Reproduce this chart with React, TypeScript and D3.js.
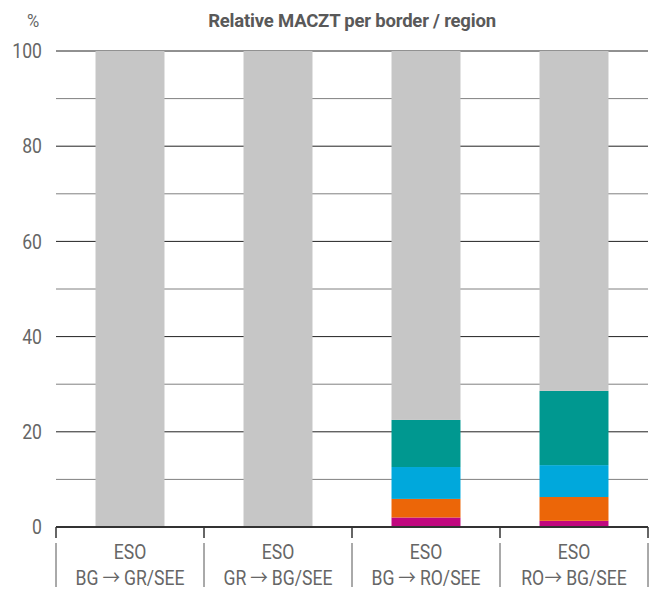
import React from "react";
import * as d3 from "d3";

const categories = ["BG-GR", "GR-BG", "BG-RO", "RO-BG"];
const labelTop = ["ESO", "ESO", "ESO", "ESO"];
const labelFrom = ["BG", "GR", "BG", "RO"];
const labelTo = ["GR/SEE", "BG/SEE", "RO/SEE", "BG/SEE"];
const gapBefore = [true, true, true, false];
const magentaVals = [0, 0, 2.0, 1.3];
const orangeVals = [0, 0, 3.9, 5.0];
const blueVals = [0, 0, 6.7, 6.7];
const tealVals = [0, 0, 9.9, 15.6];
const grayVals = [100, 100, 77.5, 71.4];
const seriesKeys = ["magenta", "orange", "blue", "teal", "gray"];
const seriesColors = ["#C0087F", "#EC6608", "#00A8DC", "#009890", "#C6C6C6"];
const yTicks = [0, 20, 40, 60, 80, 100];
const yMinor = [10, 30, 50, 70, 90];

export default function App() {
  const W = 649, H = 612;
  const left = 56, right = 648, top = 51, bottom = 527;
  const x = d3.scaleBand<string>().domain(categories).range([left, right]).paddingInner(0.534).paddingOuter(0.267);
  const y = d3.scaleLinear().domain([0, 100]).range([bottom, top]);
  const rows = categories.map((c, i) => ({
    cat: c,
    magenta: magentaVals[i],
    orange: orangeVals[i],
    blue: blueVals[i],
    teal: tealVals[i],
    gray: grayVals[i],
  }));
  const stack = d3.stack<any>().keys(seriesKeys)(rows);
  const step = x.step();
  const bounds = d3.range(categories.length + 1).map((i) => left + i * step);
  const font = "Roboto, 'Noto Sans', sans-serif";
  const sx = 0.88;
  return (
    <svg width={W} height={H} style={{ position: "absolute", left: 0, top: 0, background: "#fff" }} fontFamily={font}>
      <text x={352} y={27} textAnchor="middle" fontSize={18.5} fontWeight="bold" fill="#595959" letterSpacing={-0.2}>
        Relative MACZT per border / region
      </text>
      <text transform={`translate(33,27) scale(${sx},1)`} textAnchor="middle" fontSize={19} fill="#666">%</text>
      {yMinor.map((t) => (
        <line key={"m" + t} x1={left} x2={right} y1={y(t)} y2={y(t)} stroke="#808080" strokeWidth={1} />
      ))}
      {yTicks.filter((t) => t > 0).map((t) => (
        <line key={"g" + t} x1={left} x2={right} y1={y(t)} y2={y(t)} stroke="#222" strokeWidth={1} />
      ))}
      {yTicks.map((t) => (
        <text key={"t" + t} transform={`translate(42,${y(t)}) scale(${sx},1)`} dy="0.36em" textAnchor="end" fontSize={20} fill="#666">
          {t}
        </text>
      ))}
      {stack.map((s, si) => (
        <g key={s.key} fill={seriesColors[si]}>
          {s.map((d, i) => (
            <rect key={i} x={x(categories[i])} width={x.bandwidth()} y={y(d[1])} height={Math.max(0, y(d[0]) - y(d[1]))} />
          ))}
        </g>
      ))}
      <line x1={left} x2={right} y1={bottom} y2={bottom} stroke="#333" strokeWidth={2} />
      {bounds.map((b, i) => (
        <g key={"b" + i}>
          <line x1={b} x2={b} y1={bottom} y2={538} stroke="#333" strokeWidth={1.5} />
          <line x1={b} x2={b} y1={543} y2={587} stroke="#555" strokeWidth={1} />
        </g>
      ))}
      {categories.map((c, i) => {
        const cx = (x(c) as number) + x.bandwidth() / 2;
        return (
          <g key={"l" + c} fontSize={20} fill="#666" textAnchor="middle">
            <text transform={`translate(${cx},559) scale(${sx},1)`}>{labelTop[i]}</text>
            <text transform={`translate(${cx},585) scale(${sx},1)`}>
              {labelFrom[i]}
              <tspan fontFamily="'Noto Sans CJK SC', sans-serif" dx={gapBefore[i] ? 4.5 : 0.5}>→</tspan>
              <tspan dx={4.5}>{labelTo[i]}</tspan>
            </text>
          </g>
        );
      })}
    </svg>
  );
}
